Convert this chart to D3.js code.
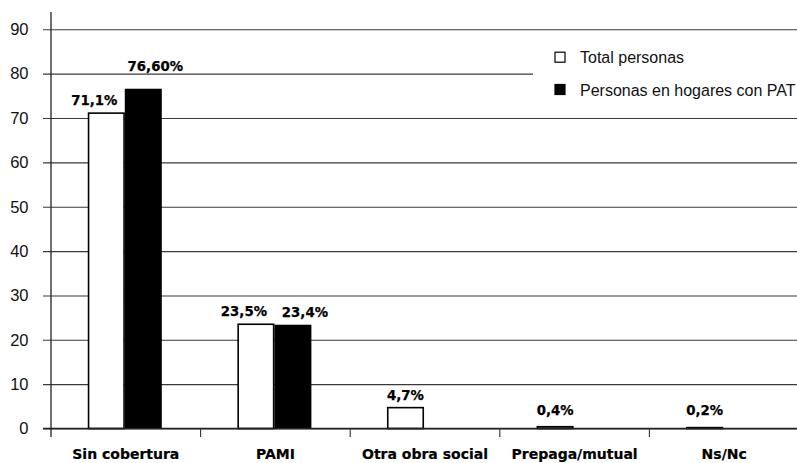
<!DOCTYPE html>
<html>
<head>
<meta charset="utf-8">
<script src="https://cdn.jsdelivr.net/npm/d3@7/dist/d3.min.js"></script>
<style>
  html, body { margin: 0; padding: 0; background: #fff; }
  svg { display: block; }
</style>
</head>
<body>
<svg id="chart" width="797" height="463"></svg>
<script>
// Cobertura de salud: total de personas vs. personas en hogares con PAT (%)
const categories = ["Sin cobertura", "PAMI", "Otra obra social", "Prepaga/mutual", "Ns/Nc"];
const seriesNames = ["Total personas", "Personas en hogares con PAT"];
const totalPersonas = [71.1, 23.5, 4.7, 0.4, 0.2];
const personasPAT = [76.6, 23.4, null, null, null];
const valueLabelsTotal = ["71,1%", "23,5%", "4,7%", "0,4%", "0,2%"];
const valueLabelsPAT = ["76,60%", "23,4%", null, null, null];
const yTicks = [0, 10, 20, 30, 40, 50, 60, 70, 80, 90];

const svg = d3.select("#chart");
const W = 797;

const x = d3.scaleBand().domain(categories).range([51, 799]).paddingInner(0).paddingOuter(0);
const y = d3.scaleLinear().domain([0, 90]).range([428.5, 29.3]);

const barW = 37;
const sub = d3.scaleBand().domain(seriesNames).range([-38, -38 + 2 * barW]);

const regular = "'Liberation Sans', Arial, sans-serif";
const bold = "'DejaVu Sans', sans-serif";

// Gridlines and y tick labels
const yAxis = d3.axisLeft(y)
  .tickValues(yTicks)
  .tickSize(-(W - 43))
  .tickPadding(14.5)
  .tickFormat(d3.format("d"));

const gy = svg.append("g").attr("transform", "translate(43,0)").call(yAxis);
gy.select(".domain").remove();
gy.selectAll(".tick line").attr("stroke", "#3a3a3a").attr("stroke-width", 1.1);
gy.selectAll(".tick text")
  .attr("font-family", regular)
  .attr("font-size", 16.5)
  .attr("fill", "#111");

// Legend panel (sits over the gridline behind it)
const legend = svg.append("g");
legend.append("rect")
  .attr("x", 533).attr("y", 36).attr("width", W - 533).attr("height", 72)
  .attr("fill", "#fff");
const legendRows = [
  { name: seriesNames[0], fill: "#fff", y: 51.7 },
  { name: seriesNames[1], fill: "#000", y: 84 }
];
legendRows.forEach(r => {
  legend.append("rect")
    .attr("x", 555).attr("y", r.y + 0.5).attr("width", 10).attr("height", 10)
    .attr("fill", r.fill).attr("stroke", "#000").attr("stroke-width", 1.2);
  legend.append("text")
    .attr("x", 580).attr("y", r.y + 11.5)
    .attr("font-family", regular).attr("font-size", 16).attr("fill", "#111")
    .text(r.name);
});

// Bars
const rows = categories.map((c, i) => ({
  cat: c,
  vals: [
    { s: seriesNames[0], v: totalPersonas[i], label: valueLabelsTotal[i] },
    { s: seriesNames[1], v: personasPAT[i], label: valueLabelsPAT[i] }
  ].filter(d => d.v != null)
}));

const center = c => x(c) + x.bandwidth() / 2;

rows.forEach(row => {
  row.vals.forEach(d => {
    const x0 = center(row.cat) + sub(d.s);
    const isTotal = d.s === seriesNames[0];
    const h = y(0) - y(d.v);
    svg.append("rect")
      .attr("x", isTotal ? x0 + 0.75 : x0)
      .attr("y", y(d.v))
      .attr("width", isTotal ? barW - 1.5 : barW)
      .attr("height", h)
      .attr("fill", isTotal ? "#fff" : "#000")
      .attr("stroke", isTotal ? "#000" : "none")
      .attr("stroke-width", 1.6);
  });
});

// Value labels
rows.forEach(row => {
  const paired = row.vals.length > 1;
  row.vals.forEach(d => {
    const isTotal = d.s === seriesNames[0];
    let lx = center(row.cat) + sub(d.s) + barW / 2;
    if (paired) lx += isTotal ? -12 : 12;
    let ly = Math.min(y(d.v) - 8, y(0) - 13.5);
    // keep the label clear of the gridline it would otherwise straddle
    yTicks.forEach(t => {
      const gyPos = y(t);
      if (ly > gyPos && ly - 10 < gyPos) ly = gyPos - 2.5;
    });
    svg.append("text")
      .attr("x", lx).attr("y", ly)
      .attr("text-anchor", "middle")
      .attr("font-family", bold).attr("font-weight", "bold")
      .attr("font-size", 13.3).attr("fill", "#000")
      .attr("stroke", "#000").attr("stroke-width", 0.25)
      .text(d.label);
  });
});

// Axes lines
svg.append("line")
  .attr("x1", 51).attr("x2", 51).attr("y1", 12).attr("y2", 437)
  .attr("stroke", "#222").attr("stroke-width", 1.3);
svg.append("line")
  .attr("x1", 43).attr("x2", W).attr("y1", y(0)).attr("y2", y(0))
  .attr("stroke", "#222").attr("stroke-width", 1.3);

// Category separators below the baseline
svg.selectAll(".sep")
  .data(categories.slice(1))
  .enter().append("line")
  .attr("x1", d => x(d)).attr("x2", d => x(d))
  .attr("y1", y(0)).attr("y2", 437)
  .attr("stroke", "#333").attr("stroke-width", 1.1);

// Category labels
svg.selectAll(".cat")
  .data(categories)
  .enter().append("text")
  .attr("x", d => center(d)).attr("y", 458.5)
  .attr("text-anchor", "middle")
  .attr("font-family", bold).attr("font-weight", "bold")
  .attr("font-size", 14).attr("fill", "#000")
  .attr("stroke", "#000").attr("stroke-width", 0.2)
  .text(d => d);
</script>
</body>
</html>
